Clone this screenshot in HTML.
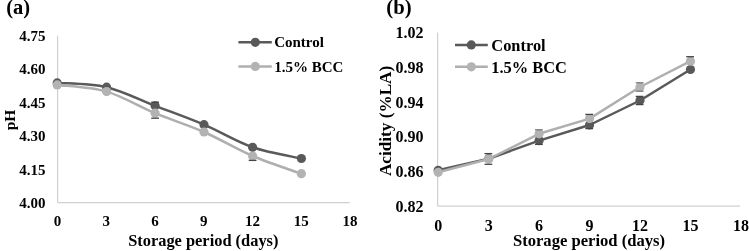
<!DOCTYPE html>
<html><head><meta charset="utf-8"><style>
html,body{margin:0;padding:0;background:#fff;}
svg{display:block;will-change:transform;}
text{font-family:"Liberation Serif", serif;font-weight:bold;fill:#000;}
</style></head><body>
<svg width="749" height="251" viewBox="0 0 749 251">
<rect width="749" height="251" fill="#fff"/>
<line x1="57.6" y1="35.8" x2="57.6" y2="202.6" stroke="#d0d0d0" stroke-width="1.2"/>
<line x1="57.6" y1="202.6" x2="349.7" y2="202.6" stroke="#d0d0d0" stroke-width="1.2"/>
<text x="45.5" y="40.90" font-size="15" text-anchor="end">4.75</text>
<text x="45.5" y="74.35" font-size="15" text-anchor="end">4.60</text>
<text x="45.5" y="107.80" font-size="15" text-anchor="end">4.45</text>
<text x="45.5" y="141.25" font-size="15" text-anchor="end">4.30</text>
<text x="45.5" y="174.70" font-size="15" text-anchor="end">4.15</text>
<text x="45.5" y="208.15" font-size="15" text-anchor="end">4.00</text>
<text x="57.60" y="225.8" font-size="15" text-anchor="middle">0</text>
<text x="106.35" y="225.8" font-size="15" text-anchor="middle">3</text>
<text x="155.10" y="225.8" font-size="15" text-anchor="middle">6</text>
<text x="203.85" y="225.8" font-size="15" text-anchor="middle">9</text>
<text x="252.60" y="225.8" font-size="15" text-anchor="middle">12</text>
<text x="301.35" y="225.8" font-size="15" text-anchor="middle">15</text>
<text x="350.10" y="225.8" font-size="15" text-anchor="middle">18</text>
<text x="203.3" y="245.9" font-size="16.4" text-anchor="middle">Storage period (days)</text>
<text x="0" y="0" font-size="15.5" text-anchor="middle" transform="translate(15.2,120) rotate(-90)">pH</text>
<text x="6.2" y="14.4" font-size="20.5" text-anchor="start">(a)</text>
<line x1="238.4" y1="42.3" x2="271.8" y2="42.3" stroke="#595959" stroke-width="2.5"/>
<circle cx="255.3" cy="42.3" r="4.6" fill="#595959"/>
<text x="274.2" y="47.4" font-size="15" text-anchor="start">Control</text>
<line x1="238.4" y1="66.4" x2="271.8" y2="66.4" stroke="#afafaf" stroke-width="2.5"/>
<circle cx="255.3" cy="66.4" r="4.6" fill="#b3b3b3"/>
<text x="274.2" y="71.5" font-size="15" text-anchor="start">1.5% BCC</text>
<path d="M57.20,82.90 C65.43,83.62 90.28,83.38 106.60,87.20 C122.92,91.02 138.87,99.55 155.10,105.80 C171.33,112.05 187.75,117.78 204.00,124.70 C220.25,131.62 236.37,141.67 252.60,147.30 C268.83,152.93 293.27,156.63 301.40,158.50" fill="none" stroke="#595959" stroke-width="2.5"/>
<circle cx="57.2" cy="82.9" r="4.6" fill="#595959"/>
<circle cx="106.6" cy="87.2" r="4.6" fill="#595959"/>
<circle cx="155.1" cy="105.8" r="4.6" fill="#595959"/>
<circle cx="204.0" cy="124.7" r="4.6" fill="#595959"/>
<circle cx="252.6" cy="147.3" r="4.6" fill="#595959"/>
<circle cx="301.4" cy="158.5" r="4.6" fill="#595959"/>
<path d="M57.20,84.90 C65.43,86.02 90.28,86.88 106.60,91.60 C122.92,96.32 138.87,106.47 155.10,113.20 C171.33,119.93 187.75,124.87 204.00,132.00 C220.25,139.13 236.37,149.05 252.60,156.00 C268.83,162.95 293.27,170.75 301.40,173.70" fill="none" stroke="#afafaf" stroke-width="2.5"/>
<circle cx="57.2" cy="84.9" r="4.6" fill="#b3b3b3"/>
<circle cx="106.6" cy="91.6" r="4.6" fill="#b3b3b3"/>
<circle cx="155.1" cy="113.2" r="4.6" fill="#b3b3b3"/>
<circle cx="204.0" cy="132.0" r="4.6" fill="#b3b3b3"/>
<circle cx="252.6" cy="156.0" r="4.6" fill="#b3b3b3"/>
<circle cx="301.4" cy="173.7" r="4.6" fill="#b3b3b3"/>
<line x1="437.6" y1="32.5" x2="437.6" y2="206.1" stroke="#d0d0d0" stroke-width="1.2"/>
<line x1="437.6" y1="206.1" x2="740.0" y2="206.1" stroke="#d0d0d0" stroke-width="1.2"/>
<text x="423.4" y="38.10" font-size="16" text-anchor="end">1.02</text>
<text x="423.4" y="72.80" font-size="16" text-anchor="end">0.98</text>
<text x="423.4" y="107.50" font-size="16" text-anchor="end">0.94</text>
<text x="423.4" y="142.20" font-size="16" text-anchor="end">0.90</text>
<text x="423.4" y="176.90" font-size="16" text-anchor="end">0.86</text>
<text x="423.4" y="211.60" font-size="16" text-anchor="end">0.82</text>
<text x="438.20" y="231.0" font-size="16" text-anchor="middle">0</text>
<text x="488.65" y="231.0" font-size="16" text-anchor="middle">3</text>
<text x="539.10" y="231.0" font-size="16" text-anchor="middle">6</text>
<text x="589.55" y="231.0" font-size="16" text-anchor="middle">9</text>
<text x="640.00" y="231.0" font-size="16" text-anchor="middle">12</text>
<text x="690.45" y="231.0" font-size="16" text-anchor="middle">15</text>
<text x="740.90" y="231.0" font-size="16" text-anchor="middle">18</text>
<text x="589.0" y="245.5" font-size="16.6" text-anchor="middle">Storage period (days)</text>
<text x="0" y="0" font-size="17.2" text-anchor="middle" transform="translate(391.4,120.9) rotate(-90)">Acidity (%LA)</text>
<text x="386.3" y="14.4" font-size="20.7" text-anchor="start">(b)</text>
<line x1="455" y1="44.9" x2="487.8" y2="44.9" stroke="#595959" stroke-width="2.5"/>
<circle cx="471.3" cy="44.9" r="4.6" fill="#595959"/>
<text x="491.3" y="50.5" font-size="16.4" text-anchor="start">Control</text>
<line x1="455" y1="66.8" x2="487.8" y2="66.8" stroke="#afafaf" stroke-width="2.5"/>
<circle cx="471.3" cy="66.8" r="4.6" fill="#b3b3b3"/>
<text x="491.3" y="72.5" font-size="16.4" text-anchor="start">1.5% BCC</text>
<path d="M438.20,170.30 L488.65,158.70 L539.10,140.60 L589.55,125.00 L640.00,100.50 L690.45,69.50" fill="none" stroke="#595959" stroke-width="2.5" stroke-linejoin="round"/>
<circle cx="438.20" cy="170.3" r="4.6" fill="#595959"/>
<circle cx="488.65" cy="158.7" r="4.6" fill="#595959"/>
<circle cx="539.10" cy="140.6" r="4.6" fill="#595959"/>
<circle cx="589.55" cy="125.0" r="4.6" fill="#595959"/>
<circle cx="640.00" cy="100.5" r="4.6" fill="#595959"/>
<circle cx="690.45" cy="69.5" r="4.6" fill="#595959"/>
<path d="M438.20,172.30 L488.65,159.00 L539.10,133.80 L589.55,118.60 L640.00,87.00 L690.45,61.20" fill="none" stroke="#afafaf" stroke-width="2.5" stroke-linejoin="round"/>
<circle cx="438.20" cy="172.3" r="4.6" fill="#b3b3b3"/>
<circle cx="488.65" cy="159.0" r="4.6" fill="#b3b3b3"/>
<circle cx="539.10" cy="133.8" r="4.6" fill="#b3b3b3"/>
<circle cx="589.55" cy="118.6" r="4.6" fill="#b3b3b3"/>
<circle cx="640.00" cy="87.0" r="4.6" fill="#b3b3b3"/>
<circle cx="690.45" cy="61.2" r="4.6" fill="#b3b3b3"/>
<line x1="151.20" y1="102.2" x2="159.00" y2="102.2" stroke="#454545" stroke-width="1.3"/>
<line x1="151.20" y1="118.2" x2="159.00" y2="118.2" stroke="#454545" stroke-width="1.3"/>
<line x1="248.70" y1="160.4" x2="256.50" y2="160.4" stroke="#454545" stroke-width="1.3"/>
<line x1="484.50" y1="153.6" x2="492.30" y2="153.6" stroke="#454545" stroke-width="1.3"/>
<line x1="484.50" y1="164.3" x2="492.30" y2="164.3" stroke="#454545" stroke-width="1.3"/>
<line x1="535.00" y1="129.8" x2="542.80" y2="129.8" stroke="#7a7a7a" stroke-width="1.3"/>
<line x1="535.00" y1="144.4" x2="542.80" y2="144.4" stroke="#454545" stroke-width="1.3"/>
<line x1="585.30" y1="114.4" x2="593.10" y2="114.4" stroke="#454545" stroke-width="1.3"/>
<line x1="585.30" y1="128.6" x2="593.10" y2="128.6" stroke="#454545" stroke-width="1.3"/>
<line x1="635.70" y1="82.8" x2="643.50" y2="82.8" stroke="#7a7a7a" stroke-width="1.3"/>
<line x1="635.70" y1="91.2" x2="643.50" y2="91.2" stroke="#7a7a7a" stroke-width="1.3"/>
<line x1="635.70" y1="96.4" x2="643.50" y2="96.4" stroke="#454545" stroke-width="1.3"/>
<line x1="635.70" y1="104.6" x2="643.50" y2="104.6" stroke="#454545" stroke-width="1.3"/>
<line x1="686.20" y1="56.7" x2="694.00" y2="56.7" stroke="#454545" stroke-width="1.3"/>
</svg>
</body></html>
